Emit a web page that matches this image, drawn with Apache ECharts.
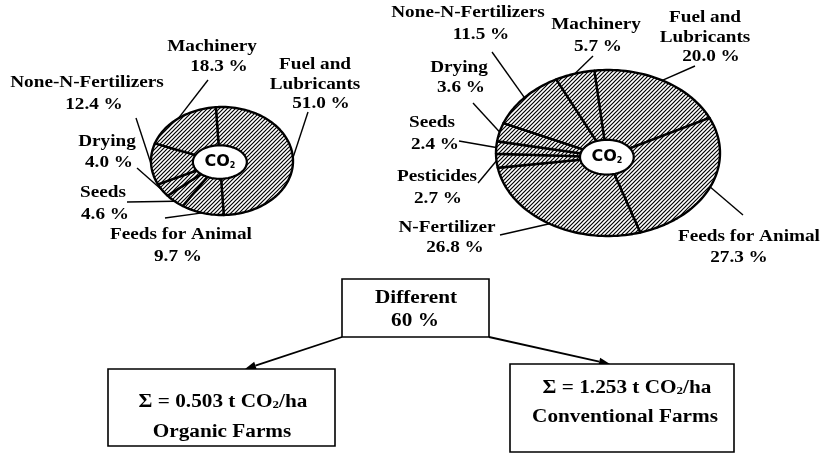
<!DOCTYPE html>
<html>
<head>
<meta charset="utf-8">
<title>CO2 organic vs conventional farms</title>
<script src="https://cdn.jsdelivr.net/npm/echarts@6/dist/echarts.min.js"></script>
<style>
  html, body { margin: 0; padding: 0; background: #fff; }
  #chart { width: 820px; height: 456px; }
</style>
</head>
<body>
<div id="chart"></div>
<script>
  // organic farms, slices clockwise from the top
  var organicNames = ['Fuel and\nLubricants', 'Feeds for Animal', 'Seeds', 'Drying', 'None-N-Fertilizers', 'Machinery']
  var organicShares = [51.0, 9.7, 4.6, 4.0, 12.4, 18.3]
  // conventional farms, slices clockwise from the top
  var convNames = ['Fuel and\nLubricants', 'Feeds for Animal', 'N-Fertilizer', 'Pesticides', 'Seeds', 'Drying', 'None-N-Fertilizers', 'Machinery']
  var convShares = [20.0, 27.3, 26.8, 2.7, 2.4, 3.6, 11.5, 5.7]
  var totals = [0.503, 1.253]          // t CO2/ha
  var farmTypes = ['Organic Farms', 'Conventional Farms']
  var difference = 60                  // %

  // label layout: [nameX, nameY, valueX, valueY, leaderX, leaderY]
  var organicLabels = [
    [315, 75, 321, 104, 308, 112],
    [181, 235, 178, 257, 165, 218],
    [103, 193, 105, 215, 127, 202],
    [107, 142, 109, 163, 137, 168],
    [87, 83, 94, 105, 136, 118],
    [212, 47, 219, 67, 208, 80]
  ]
  var convLabels = [
    [705, 28, 711, 57, 695, 66],
    [749, 237, 739, 258, 743, 215],
    [447, 228, 455, 248, 500, 235],
    [437, 177, 438, 199, 478, 183],
    [432, 123, 435, 145, 459, 141],
    [459, 68, 461, 88, 473, 103],
    [468, 13, 481, 35, 492, 52],
    [596, 25, 598, 47, 593, 56]
  ]

  // hatched fill like the scan
  var hatch = document.createElement('canvas')
  hatch.width = 4
  hatch.height = 4
  var hctx = hatch.getContext('2d')
  hctx.fillStyle = '#fff'
  hctx.fillRect(0, 0, 4, 4)
  hctx.strokeStyle = '#000'
  hctx.lineWidth = 1.2
  hctx.beginPath()
  hctx.moveTo(0, 4); hctx.lineTo(4, 0)
  hctx.moveTo(-1, 1); hctx.lineTo(1, -1)
  hctx.moveTo(3, 5); hctx.lineTo(5, 3)
  hctx.stroke()
  var hatchFill = { image: hatch, repeat: 'repeat' }

  var labelFont = { fontSize: 16, fontWeight: 'bold', fontFamily: 'Liberation Serif' }

  var makeRender = function (shares, names, startAngle, hole, labels) {
    var total = shares.reduce(function (a, b) { return a + b }, 0)
    return function (params, api) {
      var i = params.dataIndex
      var before = 0
      for (var k = 0; k < i; k++) before += shares[k]
      var a0 = startAngle - before / total * 360
      var a1 = a0 - api.value(2) / total * 360
      var pts = [api.coord([hole.dx, hole.dy])]
      var steps = Math.max(4, Math.ceil((a0 - a1) / 2))
      for (var s = 0; s <= steps; s++) {
        var a = (a0 - (a0 - a1) * s / steps) * Math.PI / 180
        pts.push(api.coord([Math.cos(a), Math.sin(a)]))
      }
      var mid = (a0 + a1) / 2 * Math.PI / 180
      var edge = api.coord([Math.cos(mid), Math.sin(mid)])
      var lab = labels[i]
      var children = [
        {
          type: 'polygon',
          shape: { points: pts },
          style: { fill: hatchFill, stroke: '#000', lineWidth: 2.4, lineJoin: 'round' }
        },
        {
          type: 'line', z2: 5,
          shape: { x1: lab[4], y1: lab[5], x2: edge[0], y2: edge[1] },
          style: { stroke: '#000', lineWidth: 1.4 }
        },
        {
          type: 'text', x: lab[0], y: lab[1], scaleX: 1.2, z2: 5,
          style: Object.assign({ text: names[i], fill: '#000', align: 'center', verticalAlign: 'middle', lineHeight: 20 }, labelFont)
        },
        {
          type: 'text', x: lab[2], y: lab[3], scaleX: 1.2, z2: 5,
          style: Object.assign({ text: api.value(2).toFixed(1) + ' %', fill: '#000', align: 'center', verticalAlign: 'middle' }, labelFont)
        }
      ]
      if (i === shares.length - 1) {
        var hp = []
        for (var h = 0; h < 60; h++) {
          var t = h / 60 * Math.PI * 2
          hp.push(api.coord([hole.dx + hole.rx * Math.cos(t), hole.dy + hole.ry * Math.sin(t)]))
        }
        var c = api.coord([hole.dx, hole.dy])
        children.push({
          type: 'polygon', z2: 10,
          shape: { points: hp },
          style: { fill: '#fff', stroke: '#000', lineWidth: 2.2 }
        })
        children.push({
          type: 'text', x: c[0], y: c[1], z2: 11,
          style: {
            text: 'CO{s|2}', fill: '#000', align: 'center', verticalAlign: 'middle',
            fontSize: 16, fontWeight: 'bold', fontFamily: 'DejaVu Sans',
            rich: { s: { fontSize: 8, fontWeight: 'bold', fontFamily: 'DejaVu Sans', verticalAlign: 'bottom', padding: [6, 0, 0, 0] } }
          }
        })
      }
      return { type: 'group', children: children }
    }
  }

  var arrow = function (x1, y1, x2, y2) {
    var dx = x2 - x1
    var dy = y2 - y1
    var len = Math.sqrt(dx * dx + dy * dy)
    var ux = dx / len
    var uy = dy / len
    var bx = x2 - ux * 11
    var by = y2 - uy * 11
    return [
      { type: 'line', shape: { x1: x1, y1: y1, x2: bx, y2: by }, style: { stroke: '#000', lineWidth: 1.8 } },
      { type: 'polygon', shape: { points: [[x2, y2], [bx - uy * 4, by + ux * 4], [bx + uy * 4, by - ux * 4]] }, style: { fill: '#000' } }
    ]
  }

  var boxText = function (x, y, text) {
    return {
      type: 'text', x: x, y: y, scaleX: 1.18,
      style: {
        text: text, fill: '#000', align: 'center', verticalAlign: 'middle',
        fontSize: 18, fontWeight: 'bold', fontFamily: 'Liberation Serif',
        rich: { s: { fontSize: 11, fontWeight: 'bold', fontFamily: 'Liberation Serif', verticalAlign: 'bottom', padding: [7, 0, 0, 0] } }
      }
    }
  }
  var boxRect = function (x, y, w, h) {
    return { type: 'rect', shape: { x: x, y: y, width: w, height: h }, style: { fill: '#fff', stroke: '#000', lineWidth: 1.6 } }
  }
  var sumText = function (v) { return '\u03a3 = ' + v.toFixed(3) + ' t CO{s|2}/ha' }

  var chart = echarts.init(document.getElementById('chart'))
  chart.setOption({
    backgroundColor: '#fff',
    animation: false,
    grid: [
      { left: 151, top: 107, width: 142, height: 108 },
      { left: 496, top: 70, width: 224, height: 166 }
    ],
    xAxis: [
      { gridIndex: 0, type: 'value', min: -1, max: 1, show: false },
      { gridIndex: 1, type: 'value', min: -1, max: 1, show: false }
    ],
    yAxis: [
      { gridIndex: 0, type: 'value', min: -1, max: 1, show: false },
      { gridIndex: 1, type: 'value', min: -1, max: 1, show: false }
    ],
    series: [
      {
        type: 'custom', xAxisIndex: 0, yAxisIndex: 0, clip: false,
        renderItem: makeRender(organicShares, organicNames, 95, { dx: -0.03, dy: -0.02, rx: 0.38, ry: 0.31 }, organicLabels),
        data: organicShares.map(function (v) { return [0, 0, v] })
      },
      {
        type: 'custom', xAxisIndex: 1, yAxisIndex: 1, clip: false,
        renderItem: makeRender(convShares, convNames, 97, { dx: -0.01, dy: -0.05, rx: 0.24, ry: 0.21 }, convLabels),
        data: convShares.map(function (v) { return [0, 0, v] })
      }
    ],
    graphic: [].concat(
      arrow(342, 337, 245, 369),
      arrow(489, 337, 610, 364),
      [
        boxRect(342, 279, 147, 58),
        boxText(416, 298, 'Different'),
        boxText(415, 321, difference + ' %'),
        boxRect(108, 369, 227, 77),
        boxText(223, 402, sumText(totals[0])),
        boxText(222, 432, farmTypes[0]),
        boxRect(510, 364, 224, 88),
        boxText(627, 388, sumText(totals[1])),
        boxText(625, 417, farmTypes[1])
      ]
    )
  })
</script>
</body>
</html>
